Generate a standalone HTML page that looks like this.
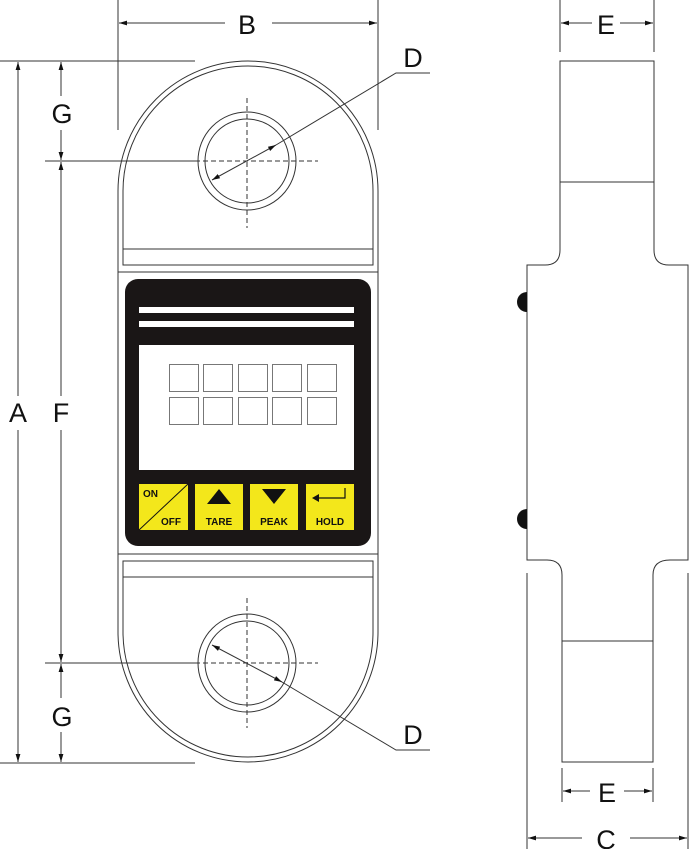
<!DOCTYPE html>
<html><head><style>body{margin:0;background:#fff}svg{display:block}</style></head><body>
<svg width="689" height="849" viewBox="0 0 689 849" xmlns="http://www.w3.org/2000/svg" font-family="Liberation Sans, sans-serif">
<defs>
<marker id="ar" viewBox="0 0 10 6" refX="10" refY="3" markerWidth="8" markerHeight="5" orient="auto-start-reverse"><path d="M0,0L10,3L0,6z" fill="#111"/></marker>
</defs>
<g stroke="#333" stroke-width="1" fill="none">
<path d="M118,632 L118,191 A130,130 0 0 1 378,191 L378,632 A130,130 0 0 1 118,632" fill="#fff"/>
<path d="M123,265 L123,191 A125,125 0 0 1 373,191 L373,265 Z"/>
<line x1="123" y1="249" x2="373" y2="249"/>
<line x1="118" y1="272" x2="378" y2="272"/>
<line x1="118" y1="554" x2="378" y2="554"/>
<path d="M123,561 L373,561 L373,632 A125,125 0 0 1 123,632 Z"/>
<line x1="123" y1="577" x2="373" y2="577"/>
<circle cx="247" cy="161" r="49"/><circle cx="247" cy="161" r="42"/>
<circle cx="247" cy="663" r="49"/><circle cx="247" cy="663" r="42"/>
<g stroke-dasharray="5,3">
<line x1="247" y1="98" x2="247" y2="228"/><line x1="195" y1="161" x2="318" y2="161"/>
<line x1="247" y1="598" x2="247" y2="728"/><line x1="195" y1="663" x2="318" y2="663"/>
</g>
<line x1="0" y1="61" x2="195" y2="61"/>
<line x1="0" y1="763" x2="195" y2="763"/>
<line x1="45" y1="161" x2="200" y2="161"/>
<line x1="45" y1="663" x2="200" y2="663"/>
<line x1="118" y1="0" x2="118" y2="130"/>
<line x1="378" y1="0" x2="378" y2="130"/>
<line x1="18" y1="62" x2="18" y2="396" marker-start="url(#ar)"/>
<line x1="18" y1="430" x2="18" y2="762" marker-end="url(#ar)"/>
<line x1="61" y1="162" x2="61" y2="396" marker-start="url(#ar)"/>
<line x1="61" y1="430" x2="61" y2="662" marker-end="url(#ar)"/>
<line x1="61" y1="62" x2="61" y2="96" marker-start="url(#ar)"/>
<line x1="61" y1="130" x2="61" y2="160" marker-end="url(#ar)"/>
<line x1="61" y1="664" x2="61" y2="698" marker-start="url(#ar)"/>
<line x1="61" y1="732" x2="61" y2="762" marker-end="url(#ar)"/>
<line x1="119" y1="23" x2="225" y2="23" marker-start="url(#ar)"/>
<line x1="272" y1="23" x2="377" y2="23" marker-end="url(#ar)"/>
<line x1="212" y1="180" x2="276" y2="145" marker-start="url(#ar)" marker-end="url(#ar)"/>
<polyline points="276,145 396,73 430,73"/>
<line x1="212" y1="645" x2="282" y2="682" marker-start="url(#ar)" marker-end="url(#ar)"/>
<polyline points="282,682 396,750 430,750"/>
<path d="M560,61 L654,61 L654,250 Q654,265 669,265 L688,265 L688,560 L670,560 Q653,560 653,575 L653,762 L562,762 L562,575 Q562,560 547,560 L527,560 L527,265 L545,265 Q560,265 560,250 Z" fill="#fff"/>
<line x1="560" y1="182" x2="654" y2="182"/>
<line x1="562" y1="641" x2="653" y2="641"/>
<line x1="560" y1="0" x2="560" y2="52"/><line x1="654" y1="0" x2="654" y2="52"/>
<line x1="562" y1="768" x2="562" y2="802"/><line x1="653" y1="768" x2="653" y2="802"/>
<line x1="527" y1="573" x2="527" y2="849"/><line x1="688" y1="573" x2="688" y2="849"/>
<line x1="561" y1="23" x2="592" y2="23" marker-start="url(#ar)"/>
<line x1="620" y1="23" x2="653" y2="23" marker-end="url(#ar)"/>
<line x1="563" y1="791" x2="590" y2="791" marker-start="url(#ar)"/>
<line x1="624" y1="791" x2="652" y2="791" marker-end="url(#ar)"/>
<line x1="528" y1="838" x2="582" y2="838" marker-start="url(#ar)"/>
<line x1="630" y1="838" x2="687" y2="838" marker-end="url(#ar)"/>
</g>
<path d="M527,292 A10,10 0 0 0 527,312 Z" fill="#111"/>
<path d="M527,509 A10,10 0 0 0 527,529 Z" fill="#111"/>
<rect x="125" y="279" width="246" height="267" rx="13" fill="#1a1616"/>
<rect x="139" y="307" width="215" height="6" fill="#fff"/>
<rect x="139" y="321" width="215" height="6" fill="#fff"/>
<rect x="139" y="345" width="215" height="125" fill="#fff"/>
<g fill="none" stroke="#777" stroke-width="1">
<rect x="169.5" y="364.5" width="29" height="27"/><rect x="203.5" y="364.5" width="29" height="27"/><rect x="238.5" y="364.5" width="29" height="27"/><rect x="272.5" y="364.5" width="29" height="27"/><rect x="307.5" y="364.5" width="29" height="27"/>
<rect x="169.5" y="397.5" width="29" height="27"/><rect x="203.5" y="397.5" width="29" height="27"/><rect x="238.5" y="397.5" width="29" height="27"/><rect x="272.5" y="397.5" width="29" height="27"/><rect x="307.5" y="397.5" width="29" height="27"/>
</g>
<g fill="#f3e71b">
<rect x="139" y="484" width="49" height="46"/><rect x="195" y="484" width="48" height="46"/><rect x="250" y="484" width="48" height="46"/><rect x="306" y="484" width="48" height="46"/>
</g>
<line x1="139" y1="530" x2="188" y2="484" stroke="#111" stroke-width="1"/>
<path d="M207,504 L231,504 L219,489 Z" fill="#111"/>
<path d="M262,489 L286,489 L274,504 Z" fill="#111"/>
<path d="M345,488 L345,498 L318,498" stroke="#111" fill="none" stroke-width="1.2"/>
<path d="M312,498 L319,494 L319,502 Z" fill="#111"/>
<g font-weight="bold" font-size="10" fill="#111">
<text x="143" y="497">ON</text><text x="161" y="525">OFF</text>
<text x="219" y="525" text-anchor="middle">TARE</text>
<text x="274" y="525" text-anchor="middle">PEAK</text>
<text x="330" y="525" text-anchor="middle">HOLD</text>
</g>
<g font-size="27" fill="#111" text-anchor="middle">
<text x="18" y="422">A</text><text x="61" y="422">F</text>
<text x="62" y="123">G</text><text x="62" y="726">G</text>
<text x="247" y="34">B</text>
<text x="413" y="67">D</text><text x="413" y="744">D</text>
<text x="606" y="34">E</text><text x="607" y="802">E</text><text x="606" y="849">C</text>
</g>
</svg>
</body></html>
